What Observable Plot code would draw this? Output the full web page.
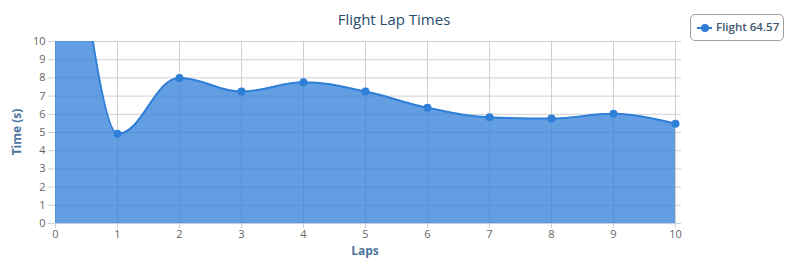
<!DOCTYPE html>
<html>
<head>
<meta charset="utf-8">
<script src="https://cdn.jsdelivr.net/npm/d3@7"></script>
<script src="https://cdn.jsdelivr.net/npm/@observablehq/plot@0.6"></script>
<style>
  body { margin: 0; background: #fff; }
  #wrap { position: relative; width: 800px; height: 260px; font-family: "Open Sans", "DejaVu Sans", sans-serif; }
  #wrap svg.plot { position: absolute; left: 0; top: 0; }
  #title { position: absolute; left: 0; width: 788px; top: 9px; text-align: center; font-size: 15px; color: #274b6d; }
  #ytitle { position: absolute; left: 16px; top: 132px; transform: translate(-50%, -50%) rotate(-90deg); font-size: 12px; font-weight: bold; color: #4d759e; white-space: nowrap; }
  #xtitle { position: absolute; left: 365px; top: 250px; transform: translate(-50%, -50%); font-size: 12px; font-weight: bold; color: #4d759e; }
  #legend { position: absolute; left: 690px; top: 14px; width: 94px; height: 27px; border: 1px solid #a0a0a0; border-radius: 5px; box-sizing: border-box; }
  #legend .sym { position: absolute; left: 6px; top: 12px; width: 15px; height: 2px; background: #2f7ed8; }
  #legend .dot { position: absolute; left: 10px; top: 9px; width: 8px; height: 8px; border-radius: 50%; background: #2f7ed8; }
  #legend .txt { position: absolute; left: 25px; top: 4px; font-size: 11.5px; font-weight: 600; color: #3e576f; white-space: nowrap; }
</style>
</head>
<body>
<div id="wrap"></div>
<script>
const chartTitle = "Flight Lap Times";
const xTitle = "Laps";
const yTitle = "Time (s)";
const seriesName = "Flight";
const seriesTotal = "64.57";
const laps = [0, 1, 2, 3, 4, 5, 6, 7, 8, 9, 10];
const times = [28, 4.93, 8.0, 7.25, 7.76, 7.25, 6.36, 5.84, 5.77, 6.03, 5.48];
const xTicks = [0, 1, 2, 3, 4, 5, 6, 7, 8, 9, 10];
const yTicks = [0, 1, 2, 3, 4, 5, 6, 7, 8, 9, 10];

const data = laps.map((lap, i) => ({lap, time: times[i]}));

// Highcharts-like spline curve
function HCSpline(context) { this._context = context; this._line = NaN; }
HCSpline.prototype = {
  areaStart() { this._line = 0; },
  areaEnd() { this._line = NaN; },
  lineStart() { this._pts = []; },
  point(x, y) { this._pts.push([+x, +y]); },
  lineEnd() {
    const p = this._pts, n = p.length, ctx = this._context;
    if (n) {
      if (this._line) ctx.lineTo(p[0][0], p[0][1]); else ctx.moveTo(p[0][0], p[0][1]);
      const sm = 1.5, den = sm + 1, L = [], R = [];
      for (let i = 1; i < n - 1; i++) {
        const [x, y] = p[i], [lx, ly] = p[i - 1], [nx, ny] = p[i + 1];
        let lcx = (sm * x + lx) / den, lcy = (sm * y + ly) / den;
        let rcx = (sm * x + nx) / den, rcy = (sm * y + ny) / den;
        if (rcx !== lcx) {
          const c = ((rcy - lcy) * (rcx - x)) / (rcx - lcx) + y - rcy;
          lcy += c; rcy += c;
        }
        if (lcy > Math.max(ly, y)) { lcy = Math.max(ly, y); rcy = 2 * y - lcy; }
        else if (lcy < Math.min(ly, y)) { lcy = Math.min(ly, y); rcy = 2 * y - lcy; }
        if (rcy > Math.max(ny, y)) { rcy = Math.max(ny, y); lcy = 2 * y - rcy; }
        else if (rcy < Math.min(ny, y)) { rcy = Math.min(ny, y); lcy = 2 * y - rcy; }
        L[i] = [lcx, lcy]; R[i] = [rcx, rcy];
      }
      for (let i = 1; i < n; i++) {
        const c1 = R[i - 1] || p[i - 1], c2 = L[i] || p[i];
        ctx.bezierCurveTo(c1[0], c1[1], c2[0], c2[1], p[i][0], p[i][1]);
      }
    }
    if (this._line) ctx.closePath();
    this._line = 1 - this._line;
  }
};
const hcSpline = (ctx) => new HCSpline(ctx);

const color = "#2f7ed8";
const plot = Plot.plot({
  width: 800,
  height: 260,
  marginLeft: 55,
  marginRight: 125,
  marginTop: 41,
  marginBottom: 37,
  style: {fontFamily: '"Open Sans", "DejaVu Sans", sans-serif', fontSize: "11px", color: "#666", background: "transparent"},
  x: {domain: [0, 10], ticks: xTicks},
  y: {domain: [0, 10], ticks: yTicks},
  marks: [
    Plot.ruleY(yTicks, {y: d => d, stroke: "#d0d0d0", strokeWidth: 1, insetLeft: -7, insetRight: -6}),
    Plot.ruleX(xTicks, {x: d => d, stroke: "#d0d0d0", strokeWidth: 1}),
    Plot.areaY(data, {x: "lap", y: "time", curve: hcSpline, fill: color, fillOpacity: 0.75, clip: true}),
    Plot.lineY(data, {x: "lap", y: "time", curve: hcSpline, stroke: color, strokeWidth: 2, clip: true}),
    Plot.ruleY([0], {stroke: "#c0d0e0", strokeWidth: 1, insetLeft: -1, insetRight: -6}),
    Plot.dot(data, {x: "lap", y: "time", r: 4, fill: color, stroke: null, filter: d => d.time <= 10}),
    Plot.axisX({ticks: xTicks, tickSize: 5, tickPadding: 2, stroke: "#c0d0e0", fill: "#666", label: null, tickFormat: d => String(d)}),
    Plot.axisY({ticks: yTicks, tickSize: 0, tickPadding: 10, fill: "#666", label: null, tickFormat: d => String(d)})
  ]
});
plot.classList.add("plot");

const wrap = document.getElementById("wrap");
wrap.appendChild(plot);

function addDiv(id, text) {
  const d = document.createElement("div");
  d.id = id;
  d.textContent = text;
  wrap.appendChild(d);
  return d;
}
addDiv("title", chartTitle);
addDiv("ytitle", yTitle);
addDiv("xtitle", xTitle);
const lg = addDiv("legend", "");
const sym = document.createElement("div"); sym.className = "sym"; lg.appendChild(sym);
const dot = document.createElement("div"); dot.className = "dot"; lg.appendChild(dot);
const txt = document.createElement("div"); txt.className = "txt"; txt.textContent = seriesName + " " + seriesTotal; lg.appendChild(txt);
</script>
</body>
</html>
